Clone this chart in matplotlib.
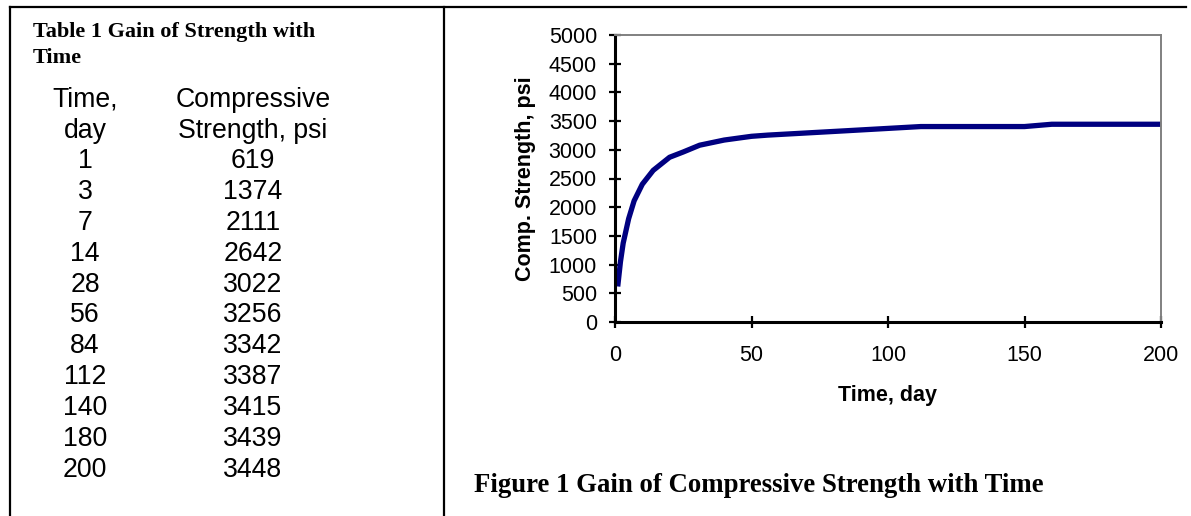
import matplotlib
matplotlib.use("Agg")
import matplotlib.pyplot as plt

# --- data (table on the left) ---
tabell_dager = [1, 3, 7, 14, 28, 56, 84, 112, 140, 180, 200]
tabell_styrke = [619, 1374, 2111, 2642, 3022, 3256, 3342, 3387, 3415, 3439, 3448]

# --- curve ---
kurve_dager = [1, 2, 3, 5, 7, 10, 14, 20, 25, 31, 40, 50, 56, 84, 112, 150, 160, 200]
kurve_styrke = [619, 1050, 1374, 1800, 2111, 2400, 2642, 2870, 2962, 3080, 3170, 3235, 3256, 3330, 3405, 3405, 3445, 3445]

x_ticks = [0, 50, 100, 150, 200]
y_ticks = list(range(0, 5001, 500))

W, H = 1191, 516
fig = plt.figure(figsize=(W / 100, H / 100), dpi=100)

# overlay i pikselkoordinater for tabell, rammer og tekst
ov = fig.add_axes([0, 0, 1, 1])
ov.set_xlim(0, W)
ov.set_ylim(H, 0)
ov.axis("off")

# rammelinjer
ov.plot([10, 1186], [6.5, 6.5], color="black", lw=1.6)
ov.plot([10, 10], [6.5, H], color="black", lw=1.6)
ov.plot([444, 444], [6.5, H], color="black", lw=1.6)

serif = "Liberation Serif"
sans = "Liberation Sans"

ov.text(33, 36.5, "Table 1 Gain of Strength with", family=serif, weight="bold",
        fontsize=16, va="baseline", ha="left")
ov.text(33, 63, "Time", family=serif, weight="bold", fontsize=16, va="baseline", ha="left")

col1, col2 = 85, 253
ov.text(col1, 107, "Time,", family=sans, fontsize=19.2, ha="center", va="baseline")
ov.text(col1, 138, "day", family=sans, fontsize=19.2, ha="center", va="baseline")
ov.text(col2, 107, "Compressive", family=sans, fontsize=19.2, ha="center", va="baseline")
ov.text(col2, 138, "Strength, psi", family=sans, fontsize=19.2, ha="center", va="baseline")
for i, (d, s) in enumerate(zip(tabell_dager, tabell_styrke)):
    y = 168 + i * 30.9
    ov.text(col1, y, str(d), family=sans, fontsize=19.2, ha="center", va="baseline")
    ov.text(col2, y, str(s), family=sans, fontsize=19.2, ha="center", va="baseline")

ov.text(474, 492, "Figure 1 Gain of Compressive Strength with Time", family=serif,
        weight="bold", fontsize=19.3, ha="left", va="baseline")

# --- diagram ---
left, right, top, bottom = 615, 1161, 35, 322
ax = fig.add_axes([left / W, (H - bottom) / H, (right - left) / W, (bottom - top) / H])
ax.plot(kurve_dager, kurve_styrke, color="#000080", lw=3.8, solid_capstyle="butt",
        solid_joinstyle="round", clip_on=False)
ax.set_xlim(0, 200)
ax.set_ylim(0, 5000)
ax.set_xticks(x_ticks)
ax.set_yticks(y_ticks)
ax.set_xticklabels([str(t) for t in x_ticks], family=sans, fontsize=15.5)
ax.set_yticklabels([str(t) for t in y_ticks], family=sans, fontsize=15.5)
ax.tick_params(axis="y", direction="inout", length=9, width=1.6, pad=8.5)
ax.tick_params(axis="x", direction="inout", length=9, width=1.6, pad=12)

for s in ("left", "bottom"):
    ax.spines[s].set_linewidth(2.2)
    ax.spines[s].set_color("black")
for s in ("top", "right"):
    ax.spines[s].set_linewidth(1.4)
    ax.spines[s].set_color("#808080")

ax.set_xlabel("Time, day", family=sans, weight="bold", fontsize=15.5, labelpad=14)
ax.set_ylabel("Comp. Strength, psi", family=sans, weight="bold", fontsize=15.5, labelpad=9)

fig.savefig("out.png", dpi=100)
